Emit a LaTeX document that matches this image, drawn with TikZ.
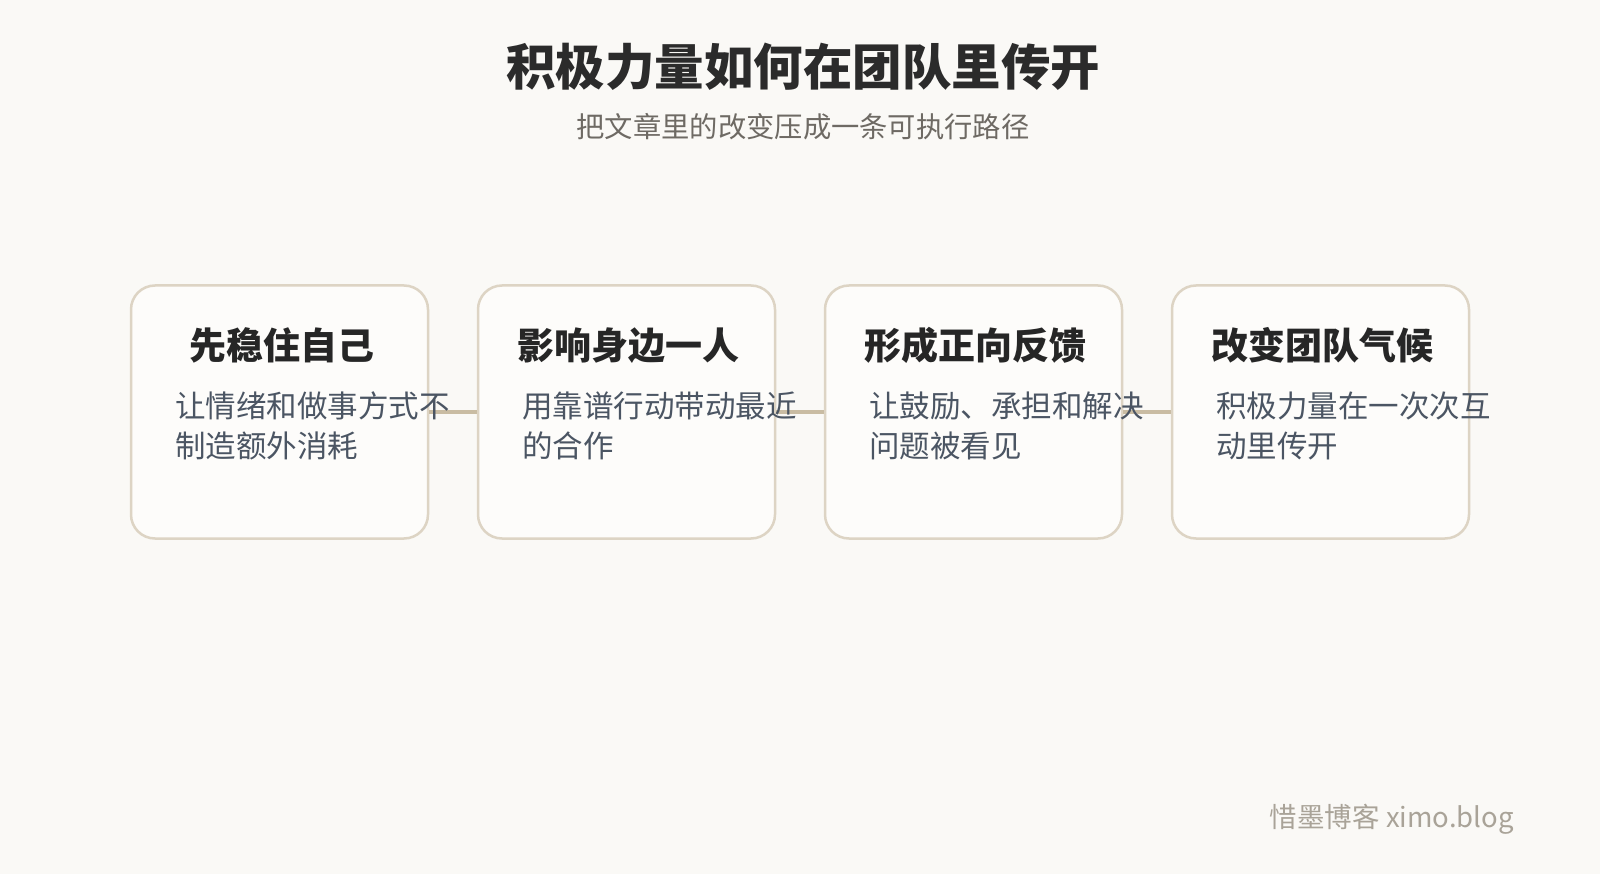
\documentclass[tikz,border=0pt]{standalone}
\usepackage{fontspec}
\setmainfont{Noto Sans CJK SC}
\usetikzlibrary{positioning}
\definecolor{paper}{HTML}{FAF9F6}
\definecolor{cardfill}{HTML}{FDFCFA}
\definecolor{cardline}{HTML}{DDD4C4}
\definecolor{linkline}{HTML}{C9BCA3}
\definecolor{titleink}{HTML}{2B2B2B}
\definecolor{subink}{HTML}{6E6A64}
\definecolor{headink}{HTML}{262626}
\definecolor{bodyink}{HTML}{4B5563}
\definecolor{markink}{HTML}{A9A398}

\begin{document}
\begin{tikzpicture}[x=1pt, y=-1pt,
    stage/.style={draw=cardline, line width=2.5pt, fill=cardfill, rounded corners=24pt, minimum width=297pt, minimum height=253pt, inner sep=0pt},
    stagehead/.style={inner sep=0pt, text=headink, font=\fontsize{37}{40}\selectfont\bfseries},
    stagetext/.style={inner sep=0pt, anchor=north west, align=left, text=bodyink, font=\fontsize{30.5}{40}\selectfont},
    link/.style={draw=linkline, line width=3.3pt}]
    \fill[paper] (0,0) rectangle (1600,874);
    \useasboundingbox (0,0) rectangle (1600,874);

    \node[inner sep=0pt, text=titleink, font=\fontsize{49.5}{54}\selectfont\bfseries] (title) at (803,67) {积极力量如何在团队里传开};
    \node[inner sep=0pt, text=subink, font=\fontsize{28.3}{32}\selectfont, below=22pt of title] (subtitle) {把文章里的改变压成一条可执行路径};

    \node[stage] (calm) at (279.5,412) {};
    \node[stage, right=47.5pt of calm] (nearby) {};
    \node[stage, right=47.5pt of nearby] (feedback) {};
    \node[stage, right=47.5pt of feedback] (climate) {};

    \draw[link] (calm) -- (nearby);
    \draw[link] (nearby) -- (feedback);
    \draw[link] (feedback) -- (climate);

    \node[stagehead] at ([xshift=2pt, yshift=-61pt]calm.north) {先稳住自己};
    \node[stagehead] at ([xshift=2pt, yshift=-61pt]nearby.north) {影响身边一人};
    \node[stagehead] at ([xshift=2pt, yshift=-61pt]feedback.north) {形成正向反馈};
    \node[stagehead] at ([xshift=2pt, yshift=-61pt]climate.north) {改变团队气候};

    \node[stagetext] (calmtext) at ([xshift=45.5pt, yshift=-107pt]calm.north west) {让情绪和做事方式不\\制造额外消耗};
    \node[stagetext] (nearbytext) at ([xshift=45.5pt, yshift=-107pt]nearby.north west) {用靠谱行动带动最近\\的合作};
    \node[stagetext] (feedbacktext) at ([xshift=45.5pt, yshift=-107pt]feedback.north west) {让鼓励、承担和解决\\问题被看见};
    \node[stagetext] (climatetext) at ([xshift=45.5pt, yshift=-107pt]climate.north west) {积极力量在一次次互\\动里传开};

    \node[inner sep=0pt, anchor=east, text=markink, font=\fontsize{27.5}{30}\selectfont] (mark) at (1514,819) {惜墨博客 ximo.blog};
\end{tikzpicture}
\end{document}
